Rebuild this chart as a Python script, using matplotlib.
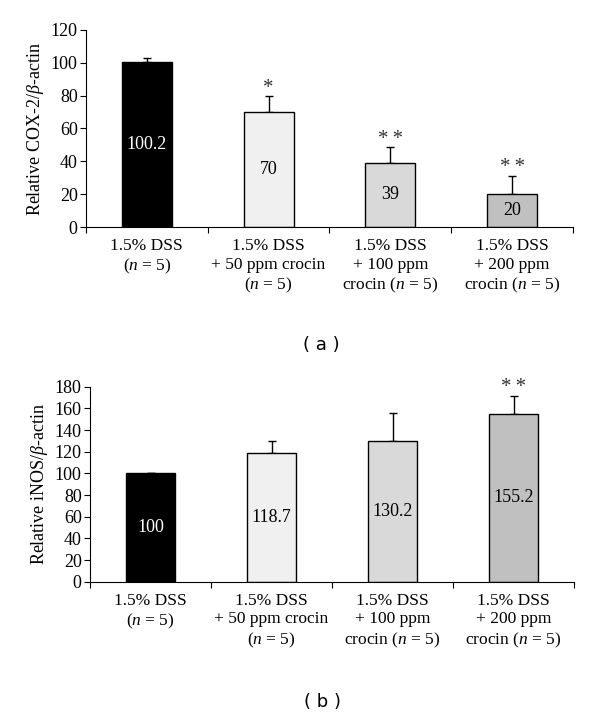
import numpy as np
import matplotlib
matplotlib.use("Agg")
import matplotlib.pyplot as plt

plt.rcParams['font.family'] = ['Liberation Serif', 'DejaVu Serif']
plt.rcParams['mathtext.fontset'] = 'custom'
plt.rcParams['mathtext.rm'] = 'Liberation Serif'
plt.rcParams['mathtext.it'] = 'Liberation Serif:italic'

groups = ["1.5% DSS\n($n$ = 5)",
          "1.5% DSS\n+ 50 ppm crocin\n($n$ = 5)",
          "1.5% DSS\n+ 100 ppm\ncrocin ($n$ = 5)",
          "1.5% DSS\n+ 200 ppm\ncrocin ($n$ = 5)"]
bar_colors = ["#000000", "#f0f0f0", "#d9d9d9", "#c0c0c0"]
text_colors = ["white", "black", "black", "black"]

# panel a: COX-2
cox_vals = [100.2, 70, 39, 20]
cox_err = [3, 9.5, 9.5, 11]
cox_labels = ["100.2", "70", "39", "20"]
cox_stars = ["", "*", "*\u2009*", "*\u2009*"]

# panel b: iNOS
inos_vals = [100, 118.7, 130.2, 155.2]
inos_err = [0.5, 11.5, 25.5, 16]
inos_labels = ["100", "118.7", "130.2", "155.2"]
inos_stars = ["", "", "", "*\u2009*"]


def draw_panel(ax, vals, err, labels, stars, ymax, ystep, ylabel, star_off):
    x = np.arange(len(vals))
    ax.bar(x, vals, width=0.41, color=bar_colors, edgecolor="black", linewidth=1.0, zorder=2)
    ax.errorbar(x, vals, yerr=[np.zeros(len(vals)), err], fmt="none",
                ecolor="black", elinewidth=1.0, capsize=3, capthick=1.0, zorder=1)
    for i in range(len(vals)):
        ax.text(x[i], vals[i] / 2, labels[i], ha="center", va="center",
                color=text_colors[i], fontsize=13)
        if stars[i]:
            ax.text(x[i], vals[i] + err[i] + star_off, stars[i], ha="center",
                    va="center", fontsize=15, color="#333333")
    ax.set_xlim(-0.5, 3.5)
    ax.set_ylim(0, ymax)
    ax.set_yticks(np.arange(0, ymax + 1, ystep))
    ax.set_xticks(np.arange(-0.5, 4, 1))
    ax.set_xticklabels([])
    ax.set_xticks(x, minor=True)
    ax.set_xticklabels(groups, minor=True, fontsize=12.5, linespacing=1.22, va="top")
    ax.tick_params(axis="x", which="minor", length=0, pad=8)
    ax.tick_params(axis="x", which="major", direction="out", length=4)
    ax.tick_params(axis="y", direction="out", length=4, labelsize=13, pad=2)
    ax.set_ylabel(ylabel, fontsize=13, labelpad=3)
    ax.spines["top"].set_visible(False)
    ax.spines["right"].set_visible(False)


fig = plt.figure(figsize=(6.0, 7.17), dpi=100)
ax1 = fig.add_axes([0.1433, 0.6834, 0.8117, 0.2748])
ax2 = fig.add_axes([0.15, 0.1887, 0.8067, 0.272])

draw_panel(ax1, cox_vals, cox_err, cox_labels, cox_stars, 120, 20,
           r"Relative COX-2/$\beta$-actin", 5)
draw_panel(ax2, inos_vals, inos_err, inos_labels, inos_stars, 180, 20,
           r"Relative iNOS/$\beta$-actin", 8)

fig.text(0.536, 1 - 345 / 717, "( a )", ha="center", va="center",
         fontsize=13, family="DejaVu Sans")
fig.text(0.537, 1 - 702 / 717, "( b )", ha="center", va="center",
         fontsize=13, family="DejaVu Sans")

fig.savefig("out.png", dpi=100)
